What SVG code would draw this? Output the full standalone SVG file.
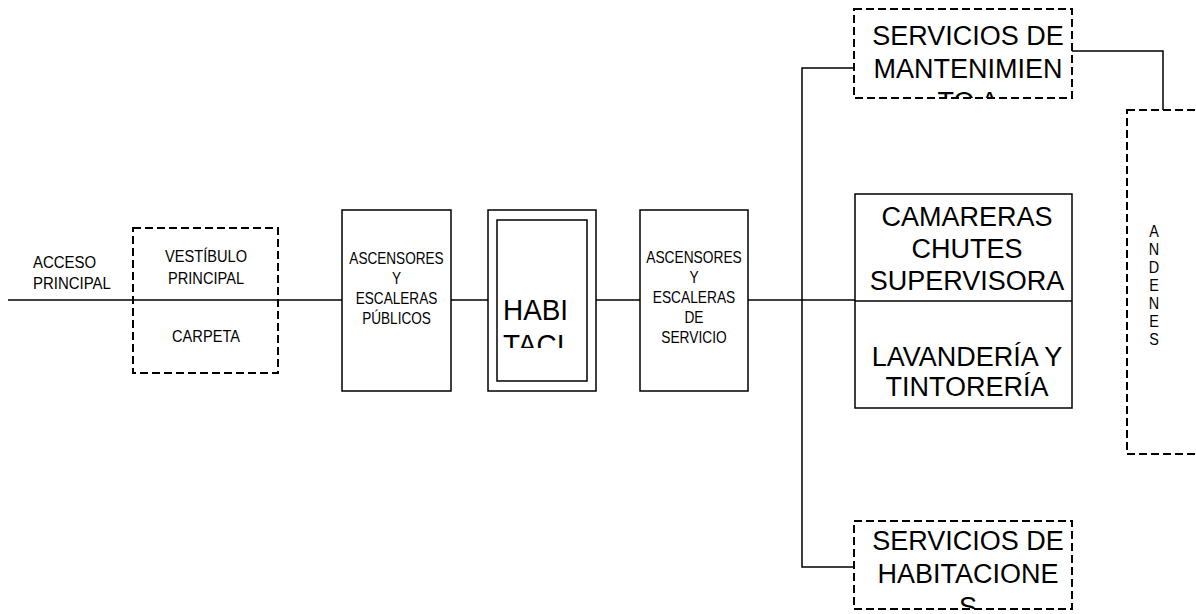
<svg xmlns="http://www.w3.org/2000/svg" width="1196" height="614" viewBox="0 0 1196 614">
  <style>
    .box { fill: #ffffff; stroke: #000000; stroke-width: 1.5; }
    .dash { fill: none; stroke: #000000; stroke-width: 2; stroke-dasharray: 8 4; }
    .wire { fill: none; stroke: #000000; stroke-width: 1.5; }
    text { font-family: "Liberation Sans", Arial, sans-serif; fill: #000000; }
    .sm { font-size: 16px; text-anchor: middle; }
    .md { font-size: 17px; text-anchor: middle; }
    .lg { font-size: 27px; text-anchor: middle; }
  </style>
  <defs>
    <clipPath id="clipMant"><rect x="854" y="9" width="218" height="89"/></clipPath>
    <clipPath id="clipHab"><rect x="854" y="521" width="218" height="88"/></clipPath>
    <clipPath id="clipRoom"><rect x="497" y="220" width="90" height="128"/></clipPath>
  </defs>

  <rect width="1196" height="614" fill="#ffffff"/>

  <!-- connectors -->
  <g id="connectors">
    <line class="wire" x1="8" y1="300" x2="342" y2="300"/>
    <line class="wire" x1="451" y1="300" x2="488" y2="300"/>
    <line class="wire" x1="596" y1="300" x2="640" y2="300"/>
    <line class="wire" x1="748" y1="300" x2="855" y2="300"/>
    <polyline class="wire" points="854,68 802,68 802,567 854,567"/>
    <polyline class="wire" points="1072,51 1163,51 1163,110"/>
  </g>

  <!-- entrance label (narrow lettering) -->
  <g id="acceso" transform="translate(33 0) scale(0.88 1)">
    <text x="0" y="268" font-size="17">ACCESO</text>
    <text x="0" y="289" font-size="17">PRINCIPAL</text>
  </g>

  <!-- lobby -->
  <g id="vestibulo">
    <rect class="dash" x="133" y="228" width="145" height="145"/>
    <g transform="translate(206 0) scale(0.86 1)">
      <text class="md" x="0" y="262">VESTÍBULO</text>
      <text class="md" x="0" y="284">PRINCIPAL</text>
      <text class="md" x="0" y="342">CARPETA</text>
    </g>
  </g>

  <!-- public lifts -->
  <g id="ascensores-publicos">
    <rect class="box" x="342" y="210" width="109" height="181"/>
    <g transform="translate(396.5 0) scale(0.85 1)">
      <text class="sm" x="0" y="264">ASCENSORES</text>
      <text class="sm" x="0" y="284">Y</text>
      <text class="sm" x="0" y="304">ESCALERAS</text>
      <text class="sm" x="0" y="324">PÚBLICOS</text>
    </g>
  </g>

  <!-- rooms -->
  <g id="habitaciones">
    <rect class="box" x="488" y="210" width="108" height="181"/>
    <rect class="box" x="497" y="220" width="90" height="161"/>
    <g clip-path="url(#clipRoom)">
      <g transform="translate(503 0) scale(0.93 1)">
        <text x="0" y="320" font-size="30">HABI</text>
        <text x="0" y="355" font-size="30">TACI</text>
      </g>
    </g>
  </g>

  <!-- service lifts -->
  <g id="ascensores-servicio">
    <rect class="box" x="640" y="210" width="108" height="181"/>
    <g transform="translate(694 0) scale(0.86 1)">
      <text class="sm" x="0" y="263">ASCENSORES</text>
      <text class="sm" x="0" y="283">Y</text>
      <text class="sm" x="0" y="303">ESCALERAS</text>
      <text class="sm" x="0" y="323">DE</text>
      <text class="sm" x="0" y="343">SERVICIO</text>
    </g>
  </g>

  <!-- maintenance -->
  <g id="mantenimiento">
    <rect class="dash" x="854" y="9" width="218" height="89"/>
    <g clip-path="url(#clipMant)">
      <text class="lg" x="968" y="45">SERVICIOS DE</text>
      <text class="lg" x="968" y="78">MANTENIMIEN</text>
      <text class="lg" x="968" y="111">TO A</text>
    </g>
  </g>

  <!-- housekeeping / laundry -->
  <g id="camareras">
    <rect class="box" x="855" y="194" width="217" height="214"/>
    <line class="wire" x1="855" y1="301" x2="1072" y2="301"/>
    <text class="lg" x="967" y="226">CAMARERAS</text>
    <text class="lg" x="967" y="258">CHUTES</text>
    <text class="lg" x="967" y="290">SUPERVISORA</text>
    <text class="lg" x="967" y="366">LAVANDERÍA Y</text>
    <text class="lg" x="967" y="396">TINTORERÍA</text>
  </g>

  <!-- room service -->
  <g id="servicio-habitaciones">
    <rect class="dash" x="854" y="521" width="218" height="88"/>
    <g clip-path="url(#clipHab)">
      <text class="lg" x="968" y="550">SERVICIOS DE</text>
      <text class="lg" x="968" y="583">HABITACIONE</text>
      <text class="lg" x="968" y="616">S</text>
    </g>
  </g>

  <!-- loading docks -->
  <g id="andenes">
    <rect class="dash" x="1127" y="110" width="90" height="344"/>
    <g transform="translate(1154 0) scale(0.9 1)">
      <text class="sm" x="0" y="237">A</text>
      <text class="sm" x="0" y="255">N</text>
      <text class="sm" x="0" y="273">D</text>
      <text class="sm" x="0" y="291">E</text>
      <text class="sm" x="0" y="309">N</text>
      <text class="sm" x="0" y="327">E</text>
      <text class="sm" x="0" y="345">S</text>
    </g>
  </g>
</svg>
